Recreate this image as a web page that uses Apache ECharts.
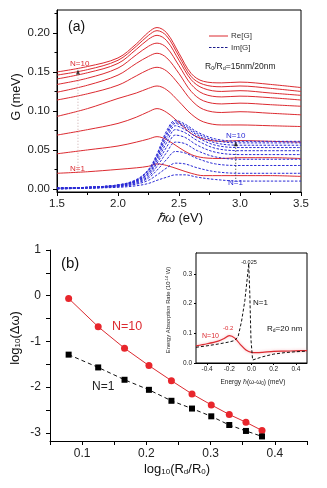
<!DOCTYPE html>
<html>
<head>
<meta charset="utf-8">
<script src="https://cdn.jsdelivr.net/npm/echarts@6/dist/echarts.min.js"></script>
<style>
  html, body { margin: 0; padding: 0; background: #fff; }
  #chart { width: 327px; height: 488px; }
</style>
</head>
<body>
<div id="chart"></div>
<script>
// ---------- panel (a): G versus photon energy ----------
const energy = [1.5, 1.75, 2.0, 2.15, 2.25, 2.32, 2.4, 2.5, 2.6, 2.7, 2.85, 3.0, 3.25, 3.5];
// Re[G] for N = 1 ... 10 (meV)
const reG = [
  [0.020, 0.022, 0.025, 0.027, 0.029, 0.032, 0.030, 0.025, 0.020, 0.017, 0.017, 0.017, 0.017, 0.016],
  [0.045, 0.050, 0.055, 0.060, 0.064, 0.067, 0.063, 0.053, 0.044, 0.040, 0.039, 0.040, 0.040, 0.039],
  [0.069, 0.076, 0.084, 0.092, 0.099, 0.103, 0.098, 0.085, 0.071, 0.064, 0.061, 0.062, 0.061, 0.060],
  [0.093, 0.103, 0.116, 0.123, 0.129, 0.132, 0.127, 0.112, 0.096, 0.086, 0.082, 0.082, 0.081, 0.080],
  [0.114, 0.122, 0.133, 0.145, 0.153, 0.156, 0.151, 0.134, 0.114, 0.102, 0.098, 0.099, 0.097, 0.095],
  [0.124, 0.133, 0.146, 0.161, 0.170, 0.174, 0.168, 0.148, 0.125, 0.113, 0.109, 0.110, 0.108, 0.106],
  [0.134, 0.142, 0.155, 0.172, 0.183, 0.187, 0.181, 0.158, 0.134, 0.122, 0.118, 0.119, 0.117, 0.114],
  [0.141, 0.149, 0.161, 0.179, 0.192, 0.197, 0.190, 0.165, 0.140, 0.129, 0.125, 0.126, 0.123, 0.120],
  [0.146, 0.153, 0.165, 0.183, 0.197, 0.203, 0.196, 0.170, 0.144, 0.134, 0.131, 0.132, 0.129, 0.125],
  [0.150, 0.157, 0.168, 0.186, 0.201, 0.207, 0.200, 0.174, 0.148, 0.138, 0.136, 0.137, 0.134, 0.130]
];
const energyIm = [1.5, 1.75, 2.0, 2.15, 2.25, 2.32, 2.4, 2.47, 2.55, 2.65, 2.8, 3.0, 3.25, 3.5];
// Im[G] for N = 1 ... 10 (meV)
const imG = [
  [0.000, 0.001, 0.002, 0.004, 0.007, 0.011, 0.015, 0.018, 0.018, 0.015, 0.012, 0.010, 0.010, 0.010],
  [0.000, 0.001, 0.003, 0.006, 0.011, 0.018, 0.027, 0.033, 0.032, 0.027, 0.022, 0.020, 0.020, 0.020],
  [0.000, 0.001, 0.003, 0.007, 0.014, 0.024, 0.038, 0.048, 0.046, 0.039, 0.032, 0.030, 0.030, 0.030],
  [0.001, 0.001, 0.004, 0.008, 0.016, 0.029, 0.047, 0.060, 0.058, 0.049, 0.041, 0.038, 0.038, 0.038],
  [0.001, 0.002, 0.004, 0.009, 0.018, 0.033, 0.054, 0.069, 0.066, 0.056, 0.047, 0.044, 0.044, 0.044],
  [0.001, 0.002, 0.004, 0.010, 0.020, 0.036, 0.060, 0.076, 0.072, 0.062, 0.052, 0.049, 0.049, 0.049],
  [0.001, 0.002, 0.005, 0.010, 0.021, 0.039, 0.065, 0.081, 0.076, 0.066, 0.056, 0.053, 0.053, 0.053],
  [0.001, 0.002, 0.005, 0.011, 0.023, 0.041, 0.069, 0.084, 0.079, 0.069, 0.059, 0.056, 0.056, 0.056],
  [0.001, 0.002, 0.005, 0.011, 0.024, 0.043, 0.072, 0.086, 0.081, 0.071, 0.062, 0.059, 0.059, 0.059],
  [0.001, 0.002, 0.005, 0.012, 0.025, 0.045, 0.075, 0.088, 0.083, 0.073, 0.064, 0.061, 0.061, 0.061]
];
const ticksA_y = [0, 0.05, 0.10, 0.15, 0.20];
const minorA_y = [0.025, 0.075, 0.125, 0.175, 0.225];
// "N increases" arrows: [energy, from, to]
const arrowRe = [1.672, 0.022, 0.150];
const arrowIm = [2.965, 0.013, 0.058];

// ---------- panel (b): linewidth versus size ratio ----------
const logRatio = [0.079, 0.125, 0.166, 0.204, 0.239, 0.271, 0.301, 0.329, 0.355, 0.380];
const logDwN10 = [-0.06, -0.68, -1.15, -1.53, -1.86, -2.15, -2.39, -2.60, -2.77, -2.95];
const logDwN1 = [-1.29, -1.57, -1.84, -2.06, -2.30, -2.47, -2.64, -2.83, -2.96, -3.08];
const ticksB_x = [0.1, 0.2, 0.3, 0.4];
const minorB_x = [0.05, 0.1, 0.15, 0.2, 0.25, 0.3, 0.35, 0.4, 0.45];
const ticksB_y = [-3, -2, -1, 0, 1];
const minorB_y = [-3, -2.5, -2, -1.5, -1, -0.5, 0, 0.5, 1];

// ---------- inset: energy absorption rate ----------
const detN10 = [-0.5, -0.4, -0.3, -0.25, -0.2, -0.15, -0.1, -0.05, 0, 0.05, 0.1, 0.2, 0.3, 0.4, 0.5];
const rateN10 = [0.058, 0.065, 0.074, 0.082, 0.092, 0.084, 0.062, 0.044, 0.036, 0.035, 0.036, 0.039, 0.040, 0.041, 0.042];
const detN1 = [-0.5, -0.4, -0.3, -0.2, -0.15, -0.12, -0.09, -0.06, -0.04, -0.025, -0.015, -0.005, 0.01, 0.05, 0.1, 0.2, 0.3, 0.4, 0.5];
const rateN1 = [0.053, 0.058, 0.064, 0.071, 0.076, 0.090, 0.140, 0.210, 0.280, 0.335, 0.230, 0.080, 0.010, 0.015, 0.021, 0.030, 0.035, 0.038, 0.040];
const ticksI_x = [-0.4, -0.2, 0, 0.2, 0.4];
const ticksI_y = [0, 0.1, 0.2, 0.3];

const FONT = 'Liberation Sans, Arial, sans-serif';
const RED = '#dc2a30';
const BLUE = '#2b2bd6';
const NAVY = '#1c1c8c';
const TXT = '#222';

const chart = echarts.init(document.getElementById('chart'), null, { renderer: 'canvas' });

const series = [];
reG.forEach((vals) => {
  series.push({
    name: 'Re[G]', type: 'line', xAxisIndex: 0, yAxisIndex: 0,
    data: energy.map((x, i) => [x, vals[i]]),
    smooth: 0.35, symbol: 'none', silent: true,
    lineStyle: { color: RED, width: 1 }, z: 3
  });
});
imG.forEach((vals) => {
  series.push({
    name: 'Im[G]', type: 'line', xAxisIndex: 0, yAxisIndex: 0,
    data: energyIm.map((x, i) => [x, vals[i]]),
    smooth: 0.35, symbol: 'none', silent: true,
    lineStyle: { color: BLUE, width: 1, type: [2.5, 1.5] }, z: 4
  });
});
// dotted "N increases" arrows in panel (a)
[[arrowRe, '#c8a8a8'], [arrowIm, '#333']].forEach(([a, c]) => {
  series.push({
    type: 'line', xAxisIndex: 0, yAxisIndex: 0, silent: true,
    data: [[a[0], a[1]], [a[0], a[2]]], symbol: 'none',
    lineStyle: { color: c, width: 1, type: [1, 2] }, z: 5
  });
  series.push({
    type: 'scatter', xAxisIndex: 0, yAxisIndex: 0, silent: true,
    data: [[a[0], a[2]]], symbol: 'triangle', symbolSize: [4, 5],
    itemStyle: { color: '#111' }, z: 6
  });
});
// panel (b)
series.push({
  type: 'line', xAxisIndex: 1, yAxisIndex: 2, silent: true,
  data: logRatio.map((x, i) => [x, logDwN10[i]]),
  symbol: 'circle', symbolSize: 7,
  lineStyle: { color: RED, width: 1 }, itemStyle: { color: '#e8262c' }, z: 5
});
series.push({
  type: 'line', xAxisIndex: 1, yAxisIndex: 2, silent: true,
  data: logRatio.map((x, i) => [x, logDwN1[i]]),
  symbol: 'rect', symbolSize: 6,
  lineStyle: { color: '#111', width: 1, type: [4, 3] }, itemStyle: { color: '#000' }, z: 5
});
// inset
series.push({
  type: 'line', xAxisIndex: 2, yAxisIndex: 3, silent: true,
  data: detN10.map((x, i) => [x, rateN10[i]]),
  smooth: 0.3, symbol: 'none',
  lineStyle: { color: RED, width: 1.2, shadowColor: 'rgba(240,120,130,0.6)', shadowBlur: 3 }, z: 5
});
series.push({
  type: 'line', xAxisIndex: 2, yAxisIndex: 3, silent: true,
  data: detN1.map((x, i) => [x, rateN1[i]]),
  symbol: 'none',
  lineStyle: { color: '#111', width: 1, type: [3, 2] }, z: 6
});

const axisLineBlack = { show: true, onZero: false, lineStyle: { color: '#000', width: 1 } };
const lbl = (size, fmt, vals, margin) => ({
  fontFamily: FONT, fontSize: size, color: TXT, formatter: fmt, customValues: vals, margin: margin
});

const option = {
  animation: false,
  backgroundColor: '#fff',
  grid: [
    { left: 57, top: 10, width: 244, height: 182, show: true, borderColor: '#000', borderWidth: 1, containLabel: false },
    { left: 50, top: 250, width: 257, height: 191, containLabel: false },
    { left: 196, top: 253, width: 111, height: 110, show: true, borderColor: '#000', borderWidth: 1, backgroundColor: '#fff', containLabel: false, z: 3 }
  ],
  xAxis: [
    {
      gridIndex: 0, type: 'value', min: 1.5, max: 3.5, interval: 0.5,
      axisLine: axisLineBlack, splitLine: { show: false },
      axisTick: { inside: false, length: 4, lineStyle: { color: '#000' } },
      minorTick: { show: true, splitNumber: 2, length: 3, lineStyle: { color: '#000' } },
      axisLabel: lbl(11.5, v => v.toFixed(1), undefined, 6)
    },
    {
      gridIndex: 1, type: 'value', min: 0.05, max: 0.45,
      axisLine: axisLineBlack, splitLine: { show: false },
      axisTick: { inside: false, length: 4, customValues: minorB_x, lineStyle: { color: '#000' } },
      axisLabel: lbl(12, v => v.toFixed(1), ticksB_x, 7)
    },
    {
      gridIndex: 2, type: 'value', min: -0.5, max: 0.5,
      axisLine: axisLineBlack, splitLine: { show: false },
      axisTick: { inside: false, length: 2, customValues: ticksI_x, lineStyle: { color: '#000' } },
      axisLabel: lbl(6.5, v => v.toFixed(1), ticksI_x, 3)
    }
  ],
  yAxis: [
    {
      gridIndex: 0, type: 'value', min: -0.004, max: 0.2295,
      axisLine: axisLineBlack, splitLine: { show: false },
      axisTick: { inside: false, length: 4, customValues: ticksA_y, lineStyle: { color: '#000' } },
      axisLabel: lbl(11.5, v => v.toFixed(2), ticksA_y, 7)
    },
    {
      gridIndex: 0, type: 'value', min: -0.004, max: 0.2295, position: 'left',
      axisLine: { show: false, onZero: false }, splitLine: { show: false },
      axisTick: { show: true, inside: false, length: 2.5, customValues: minorA_y, lineStyle: { color: '#000' } },
      axisLabel: { show: false }
    },
    {
      gridIndex: 1, type: 'value', min: -3.18, max: 1,
      axisLine: axisLineBlack, splitLine: { show: false },
      axisTick: { inside: false, length: 4, customValues: minorB_y, lineStyle: { color: '#000' } },
      axisLabel: lbl(12, v => String(v), ticksB_y, 9)
    },
    {
      gridIndex: 2, type: 'value', min: 0, max: 0.371,
      axisLine: axisLineBlack, splitLine: { show: false },
      axisTick: { inside: false, length: 2, customValues: ticksI_y, lineStyle: { color: '#000' } },
      axisLabel: lbl(6.5, v => v.toFixed(1), ticksI_y, 4)
    }
  ],
  series: series,
  graphic: [
    // legend of panel (a)
    { type: 'line', z: 10, shape: { x1: 209, y1: 36, x2: 228, y2: 36 }, style: { stroke: RED, lineWidth: 1 } },
    { type: 'text', x: 231, y: 36, z: 10, style: { text: 'Re[G]', font: '8px ' + FONT, fill: '#333', verticalAlign: 'middle' } },
    { type: 'line', z: 10, shape: { x1: 209, y1: 47.5, x2: 228, y2: 47.5 }, style: { stroke: NAVY, lineWidth: 1, lineDash: [2.5, 1.5] } },
    { type: 'text', x: 231, y: 47.5, z: 10, style: { text: 'Im[G]', font: '8px ' + FONT, fill: '#333', verticalAlign: 'middle' } },
    // panel (a) texts
    { type: 'text', x: 68, y: 27, z: 10, style: { text: '(a)', font: '14px ' + FONT, fill: '#111', verticalAlign: 'middle' } },
    { type: 'text', x: 70, y: 64, z: 10, style: { text: 'N=10', font: '8px ' + FONT, fill: RED, verticalAlign: 'middle' } },
    { type: 'text', x: 70, y: 169, z: 10, style: { text: 'N=1', font: '8px ' + FONT, fill: RED, verticalAlign: 'middle' } },
    { type: 'text', x: 226, y: 136, z: 10, style: { text: 'N=10', font: '8px ' + FONT, fill: BLUE, verticalAlign: 'middle' } },
    { type: 'text', x: 228, y: 183, z: 10, style: { text: 'N=1', font: '8px ' + FONT, fill: BLUE, verticalAlign: 'middle' } },
    { type: 'text', x: 205, y: 60, z: 10, style: {
        text: '{a|R}{s|0}{a|/R}{s|d}{a|=15nm/20nm}',
        rich: { a: { fontFamily: FONT, fontSize: 8.5, fill: '#222', lineHeight: 11, verticalAlign: 'bottom' },
                s: { fontFamily: FONT, fontSize: 5.5, fill: '#222', lineHeight: 8, verticalAlign: 'bottom' } } } },
    { type: 'text', x: 17, y: 97, z: 10, rotation: Math.PI / 2, style: { text: 'G (meV)', font: '12.5px ' + FONT, fill: '#111', align: 'center', verticalAlign: 'middle' } },
    { type: 'text', x: 180, y: 218, z: 10, style: {
        text: '{i|ℏω} {a|(eV)}', align: 'center', verticalAlign: 'middle',
        rich: { i: { fontFamily: FONT, fontSize: 13, fontStyle: 'italic', fill: '#111' }, a: { fontFamily: FONT, fontSize: 13, fill: '#111' } } } },
    // panel (b) texts
    { type: 'text', x: 61, y: 264, z: 10, style: { text: '(b)', font: '15px ' + FONT, fill: '#111', verticalAlign: 'middle' } },
    { type: 'text', x: 112, y: 327, z: 10, style: { text: 'N=10', font: '12.5px ' + FONT, fill: RED, verticalAlign: 'middle' } },
    { type: 'text', x: 92, y: 387, z: 10, style: { text: 'N=1', font: '12px ' + FONT, fill: '#222', verticalAlign: 'middle' } },
    { type: 'text', x: 14, y: 338, z: 10, rotation: Math.PI / 2, style: {
        text: '{a|log}{s|10}{a|(Δω)}', align: 'center', verticalAlign: 'middle',
        rich: { a: { fontFamily: FONT, fontSize: 13, fill: '#111', lineHeight: 16, verticalAlign: 'bottom' },
                s: { fontFamily: FONT, fontSize: 8, fill: '#111', lineHeight: 11, verticalAlign: 'bottom' } } } },
    { type: 'text', x: 177, y: 468, z: 10, style: {
        text: '{a|log}{s|10}{a|(R}{s|d}{a|/R}{s|0}{a|)}', align: 'center', verticalAlign: 'middle',
        rich: { a: { fontFamily: FONT, fontSize: 13, fill: '#111', lineHeight: 16, verticalAlign: 'bottom' },
                s: { fontFamily: FONT, fontSize: 8, fill: '#111', lineHeight: 11, verticalAlign: 'bottom' } } } },
    // inset texts
    { type: 'text', x: 249, y: 262, z: 20, style: { text: '-0.025', font: '5.5px ' + FONT, fill: '#111', align: 'center', verticalAlign: 'middle' } },
    { type: 'text', x: 253, y: 303, z: 20, style: { text: 'N=1', font: '8px ' + FONT, fill: '#111', verticalAlign: 'middle' } },
    { type: 'text', x: 267, y: 323, z: 20, style: {
        text: '{a|R}{s|d}{a|=20 nm}',
        rich: { a: { fontFamily: FONT, fontSize: 8, fill: '#111', lineHeight: 10, verticalAlign: 'bottom' },
                s: { fontFamily: FONT, fontSize: 5, fill: '#111', lineHeight: 7, verticalAlign: 'bottom' } } } },
    { type: 'text', x: 223, y: 328, z: 20, style: { text: '-0.2', font: '6px ' + FONT, fill: RED, verticalAlign: 'middle' } },
    { type: 'text', x: 202, y: 336, z: 20, style: { text: 'N=10', font: '7px ' + FONT, fill: RED, verticalAlign: 'middle' } },
    { type: 'text', x: 169, y: 310, z: 20, rotation: Math.PI / 2, style: {
        text: '{a|Energy Absorption Rate (10}{p|-14}{a| W)}', align: 'center', verticalAlign: 'middle',
        rich: { a: { fontFamily: FONT, fontSize: 5.8, fill: '#222', lineHeight: 8, verticalAlign: 'top' },
                p: { fontFamily: FONT, fontSize: 4, fill: '#222', lineHeight: 8, verticalAlign: 'top' } } } },
    { type: 'text', x: 253, y: 381.5, z: 20, style: {
        text: '{a|Energy ℏ(ω-ω}{s|0}{a|) (meV)}', align: 'center', verticalAlign: 'middle',
        rich: { a: { fontFamily: FONT, fontSize: 6.5, fill: '#222', lineHeight: 9, verticalAlign: 'bottom' },
                s: { fontFamily: FONT, fontSize: 4.5, fill: '#222', lineHeight: 6, verticalAlign: 'bottom' } } } }
  ]
};

chart.setOption(option);
</script>
</body>
</html>
